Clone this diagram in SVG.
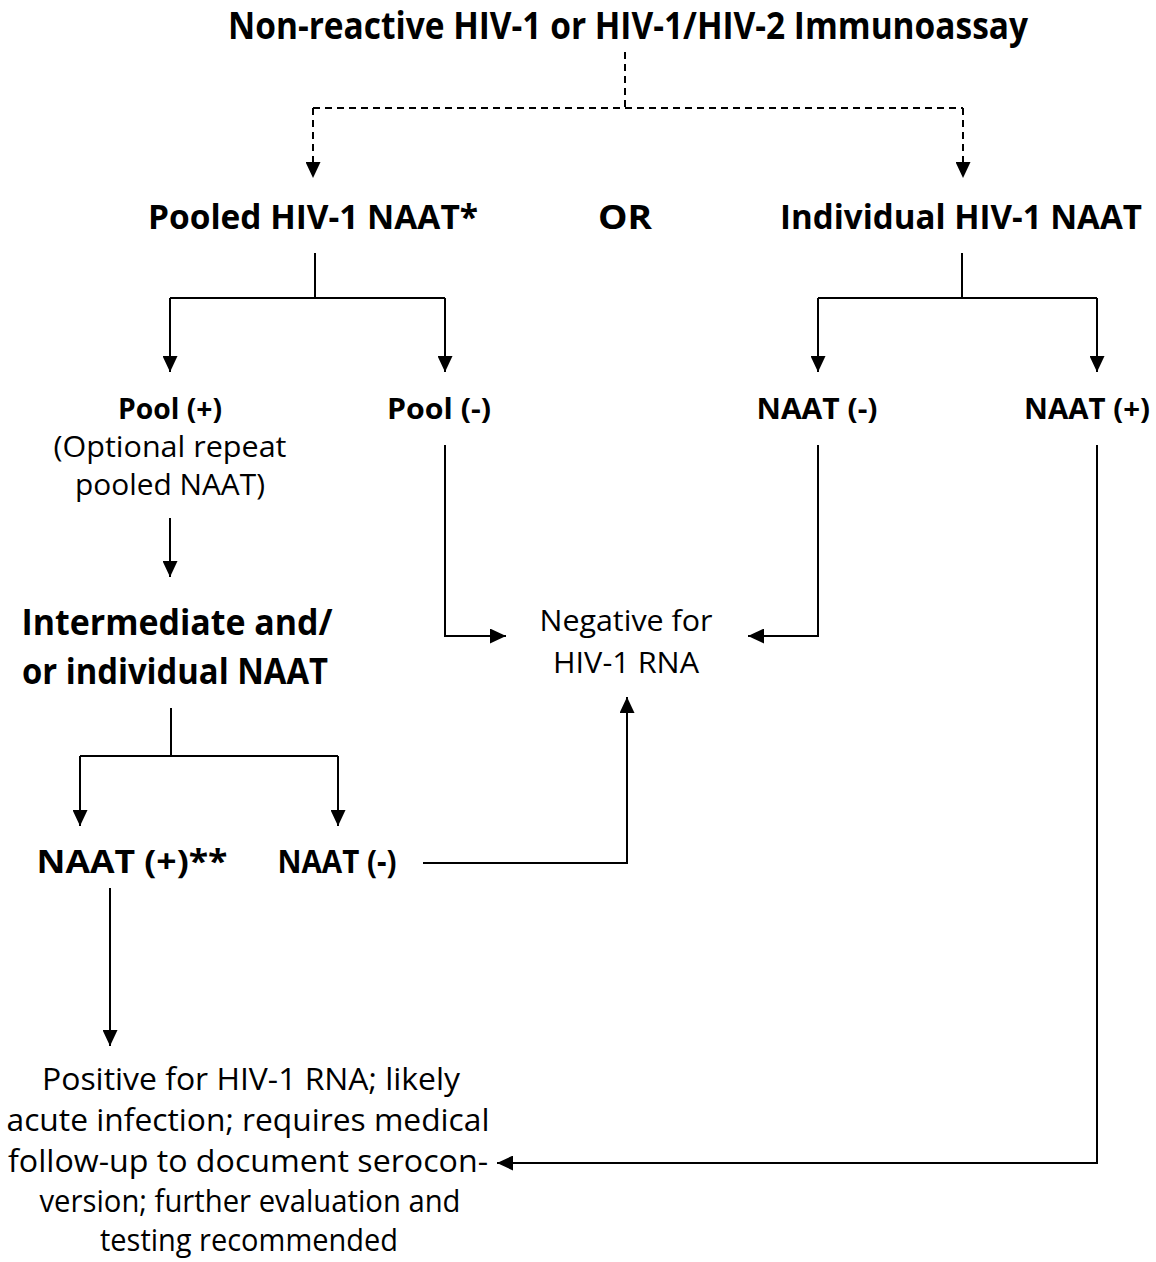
<svg xmlns="http://www.w3.org/2000/svg" width="1156" height="1262" viewBox="0 0 1156 1262">
<defs>
<marker id="ah" viewBox="0 0 10 10" refX="10" refY="5" markerWidth="16" markerHeight="15" markerUnits="userSpaceOnUse" orient="auto" preserveAspectRatio="none">
<path d="M0,0 L10,5 L0,10 Z" fill="#000"/>
</marker>
</defs>
<style>
text{font-family:"Open Sans","Liberation Sans",sans-serif;fill:#000;text-anchor:middle}
.b{font-weight:bold}
.ln{fill:none;stroke:#000;stroke-width:2}
.d{stroke-dasharray:7,5}
</style>
<rect width="1156" height="1262" fill="#fff"/>
<g id="connectors">
<path class="ln d" d="M625,52 V108"/>
<path class="ln d" d="M313,108 H963"/>
<path class="ln d" d="M313,108 V178" marker-end="url(#ah)"/>
<path class="ln d" d="M963,108 V178" marker-end="url(#ah)"/>
<path class="ln" d="M315,253 V298"/>
<path class="ln" d="M170,298 H445"/>
<path class="ln" d="M170,298 V372" marker-end="url(#ah)"/>
<path class="ln" d="M445,298 V372" marker-end="url(#ah)"/>
<path class="ln" d="M962,253 V298"/>
<path class="ln" d="M818,298 H1097"/>
<path class="ln" d="M818,298 V372" marker-end="url(#ah)"/>
<path class="ln" d="M1097,298 V372" marker-end="url(#ah)"/>
<path class="ln" d="M170,518 V577" marker-end="url(#ah)"/>
<path class="ln" d="M445,445 V636 H506" marker-end="url(#ah)"/>
<path class="ln" d="M818,445 V636 H748" marker-end="url(#ah)"/>
<path class="ln" d="M423,863 H627 V697" marker-end="url(#ah)"/>
<path class="ln" d="M171,708 V756"/>
<path class="ln" d="M80,756 H338"/>
<path class="ln" d="M80,756 V826" marker-end="url(#ah)"/>
<path class="ln" d="M338,756 V826" marker-end="url(#ah)"/>
<path class="ln" d="M110,888 V1046" marker-end="url(#ah)"/>
<path class="ln" d="M1097,445 V1163 H497" marker-end="url(#ah)"/>
</g>
<g id="title"><text class="b" x="628" y="39" font-size="37" textLength="800" lengthAdjust="spacingAndGlyphs">Non-reactive HIV-1 or HIV-1/HIV-2 Immunoassay</text></g>
<g id="pooled"><text class="b" x="313" y="229" font-size="34" textLength="330" lengthAdjust="spacingAndGlyphs">Pooled HIV-1 NAAT*</text></g>
<g id="or"><text class="b" x="625" y="229" font-size="34" textLength="54" lengthAdjust="spacingAndGlyphs">OR</text></g>
<g id="individual"><text class="b" x="961" y="229" font-size="34" textLength="362" lengthAdjust="spacingAndGlyphs">Individual HIV-1 NAAT</text></g>
<g id="poolpos">
<text class="b" x="170" y="419" font-size="29" textLength="104" lengthAdjust="spacingAndGlyphs">Pool (+)</text>
<text x="170" y="457" font-size="29" textLength="233" lengthAdjust="spacingAndGlyphs">(Optional repeat</text>
<text x="170" y="495" font-size="29" textLength="190" lengthAdjust="spacingAndGlyphs">pooled NAAT)</text>
</g>
<g id="poolneg"><text class="b" x="439" y="419" font-size="29" textLength="104" lengthAdjust="spacingAndGlyphs">Pool (-)</text></g>
<g id="naatneg1"><text class="b" x="817" y="419" font-size="29" textLength="121" lengthAdjust="spacingAndGlyphs">NAAT (-)</text></g>
<g id="naatpos1"><text class="b" x="1087" y="419" font-size="29" textLength="126" lengthAdjust="spacingAndGlyphs">NAAT (+)</text></g>
<g id="intermediate">
<text class="b" x="177" y="635" font-size="35" textLength="311" lengthAdjust="spacingAndGlyphs">Intermediate and/</text>
<text class="b" x="175" y="684" font-size="35" textLength="306" lengthAdjust="spacingAndGlyphs">or individual NAAT</text>
</g>
<g id="negative">
<text x="626" y="631" font-size="30" textLength="173" lengthAdjust="spacingAndGlyphs">Negative for</text>
<text x="626" y="673" font-size="30" textLength="146" lengthAdjust="spacingAndGlyphs">HIV-1 RNA</text>
</g>
<g id="naatpos2"><text class="b" x="132" y="873" font-size="32" textLength="191" lengthAdjust="spacingAndGlyphs">NAAT (+)**</text></g>
<g id="naatneg2"><text class="b" x="337" y="873" font-size="32" textLength="119" lengthAdjust="spacingAndGlyphs">NAAT (-)</text></g>
<g id="positive">
<text x="251" y="1090" font-size="31" textLength="418" lengthAdjust="spacingAndGlyphs">Positive for HIV-1 RNA; likely</text>
<text x="248" y="1131" font-size="31" textLength="483" lengthAdjust="spacingAndGlyphs">acute infection; requires medical</text>
<text x="248" y="1172" font-size="31" textLength="480" lengthAdjust="spacingAndGlyphs">follow-up to document serocon-</text>
<text x="250" y="1212" font-size="31" textLength="421" lengthAdjust="spacingAndGlyphs">version; further evaluation and</text>
<text x="249" y="1251" font-size="31" textLength="298" lengthAdjust="spacingAndGlyphs">testing recommended</text>
</g>
</svg>
